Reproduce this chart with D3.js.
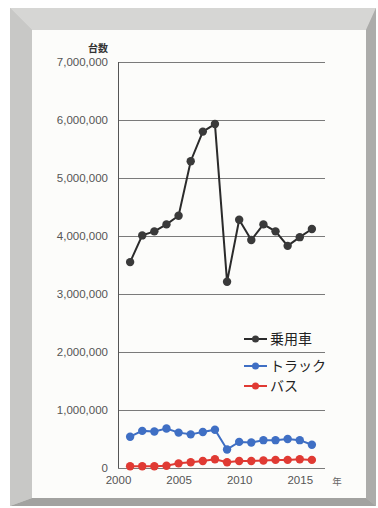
<!DOCTYPE html>
<html>
<head>
<meta charset="utf-8">
<script src="https://cdn.jsdelivr.net/npm/d3@7"></script>
<style>
  body { margin: 0; background: #fff; }
  svg { display: block; }
</style>
</head>
<body>
<svg width="378" height="508"></svg>
<script>
// years and vehicle counts
var years = d3.range(2001, 2017)
var cars   = [3550000, 4010000, 4080000, 4200000, 4350000, 5290000, 5800000, 5930000,
              3210000, 4280000, 3930000, 4200000, 4080000, 3830000, 3980000, 4120000]
var trucks = [540000, 640000, 630000, 680000, 610000, 580000, 620000, 660000,
              320000, 450000, 440000, 480000, 480000, 500000, 480000, 400000]
var buses  = [30000, 30000, 30000, 40000, 80000, 100000, 120000, 150000,
              100000, 120000, 120000, 130000, 140000, 140000, 150000, 140000]
var yTicks = [0, 1000000, 2000000, 3000000, 4000000, 5000000, 6000000, 7000000]
var xTicks = [2000, 2005, 2010, 2015]
var seriesNames = ['乗用車', 'トラック', 'バス']

var svg = d3.select('svg')

// scanned frame
svg.append('rect').attr('x', 10).attr('y', 8).attr('width', 366).attr('height', 498).attr('fill', '#c6c6c4')
svg.append('polygon').attr('points', '10,8 376,8 366,30 32,30').attr('fill', '#d6d6d4')
svg.append('polygon').attr('points', '376,8 376,506 366,498 366,30').attr('fill', '#acacaa')
svg.append('polygon').attr('points', '10,506 376,506 366,498 32,498').attr('fill', '#a2a2a0')
svg.append('polygon').attr('points', '10,8 32,30 32,498 10,506').attr('fill', '#c8c8c6')
svg.append('rect').attr('x', 32).attr('y', 30).attr('width', 334).attr('height', 468).attr('fill', '#fcfcfa')

var x = d3.scaleLinear().domain([2000, 2017]).range([118, 324])
var y = d3.scaleLinear().domain([0, 7000000]).range([468, 62])

var font = 'Liberation Sans, Arial, sans-serif'

// gridlines + y labels
var yAxis = svg.append('g')
  .attr('transform', 'translate(118,0)')
  .call(d3.axisLeft(y).tickValues(yTicks).tickSize(-207).tickPadding(10)
    .tickFormat(d3.format(',')))
yAxis.select('.domain').remove()
yAxis.selectAll('line').attr('stroke', '#7a7a7a').attr('stroke-width', 1)
yAxis.selectAll('text').attr('fill', '#555').style('font-family', font).style('font-size', '11.5px')

svg.append('line').attr('x1', 118.5).attr('x2', 118.5).attr('y1', 62).attr('y2', 468)
  .attr('stroke', '#555').attr('stroke-width', 1)

// x labels
var xAxis = svg.append('g')
  .attr('transform', 'translate(0,468)')
  .call(d3.axisBottom(x).tickValues(xTicks).tickSize(0).tickPadding(8).tickFormat(d3.format('d')))
xAxis.select('.domain').remove()
xAxis.selectAll('text').attr('fill', '#555').style('font-family', font).style('font-size', '11.5px')

svg.append('text').attr('x', 337).attr('y', 485).attr('text-anchor', 'middle')
  .attr('fill', '#666').style('font-size', '9.5px').style('font-family', 'Noto Sans CJK JP').text('年')
svg.append('text').attr('x', 108).attr('y', 52).attr('text-anchor', 'end')
  .attr('fill', '#333').style('font-size', '10px').style('font-family', 'Noto Sans CJK JP')
  .style('font-weight', 'bold').text('台数')

var series = [
  { name: seriesNames[0], values: cars, color: '#2b2b2b', dot: '#3a3a3a' },
  { name: seriesNames[1], values: trucks, color: '#3f6fc4', dot: '#3f6fc4' },
  { name: seriesNames[2], values: buses, color: '#e03a33', dot: '#e03a33' }
]

var line = d3.line().x(function (d) { return x(d[0]) }).y(function (d) { return y(d[1]) })

series.forEach(function (s) {
  var pts = years.map(function (yr, i) { return [yr, s.values[i]] })
  svg.append('path').datum(pts).attr('d', line)
    .attr('fill', 'none').attr('stroke', s.color).attr('stroke-width', 2)
  svg.append('g').selectAll('circle').data(pts).enter().append('circle')
    .attr('cx', function (d) { return x(d[0]) })
    .attr('cy', function (d) { return y(d[1]) })
    .attr('r', 4.2)
    .attr('fill', s.dot)
})

// legend
var legY = [339, 366, 386]
var leg = svg.append('g').selectAll('g').data(series).enter().append('g')
  .attr('transform', function (d, i) { return 'translate(244,' + legY[i] + ')' })
leg.append('line').attr('x1', 0).attr('x2', 23).attr('stroke', function (d) { return d.color }).attr('stroke-width', 2)
leg.append('circle').attr('cx', 11.5).attr('r', 3.5).attr('fill', function (d) { return d.dot })
leg.append('text').attr('x', 26).attr('y', 5)
  .attr('fill', '#222').style('font-size', '14px').style('font-family', 'Noto Sans CJK JP')
  .text(function (d) { return d.name })
</script>
</body>
</html>
